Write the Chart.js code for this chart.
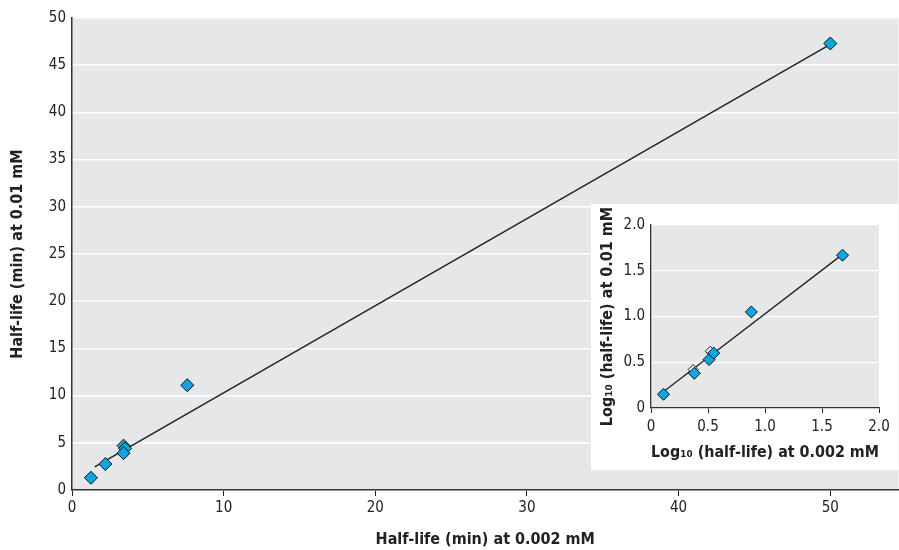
<!DOCTYPE html>
<html><head><meta charset="utf-8">
<script src="https://cdn.jsdelivr.net/npm/chart.js@4.4.1/dist/chart.umd.min.js"></script>
<style>
html,body{margin:0;padding:0;background:#fff;overflow:hidden;}
#wrap{position:relative;width:899px;height:550px;overflow:hidden;}
#inner{position:absolute;left:0;top:0;width:960px;height:550px;}
#main{position:absolute;left:0;top:0;}
#inset{position:absolute;left:591px;top:204px;}
</style></head><body>
<div id="wrap">
<div id="inner"><canvas id="main" width="899" height="550"></canvas></div>
<canvas id="inset" width="307" height="266"></canvas>
</div>
<script>
// Main chart data (half-life, min)
const mainX = [1.25, 2.2, 3.4, 3.5, 3.4, 7.6, 50.0];
const mainY = [1.3, 2.75, 4.7, 4.4, 3.9, 11.1, 47.3];
const mainFitX = [1.5, 50.0];
const mainFitY = [2.45, 47.2];
const mainXTicks = [0, 10, 20, 30, 40, 50];
const mainYTicks = [0, 5, 10, 15, 20, 25, 30, 35, 40, 45, 50];

// Inset data (log10 half-life)
const insetX = [0.11, 0.38, 0.51, 0.55, 0.88, 1.68];
const insetY = [0.15, 0.38, 0.53, 0.60, 1.05, 1.67];
const insetOpenX = [0.37, 0.52];
const insetOpenY = [0.42, 0.62];
const insetFitX = [0.10, 1.66];
const insetFitY = [0.17, 1.66];
const insetTicks = [0, 0.5, 1.0, 1.5, 2.0];

const FONT = '"DejaVu Sans Condensed","Liberation Sans Narrow","Roboto",sans-serif';
const BLUE = '#0ea5e3';
const PLOTBG = '#e6e7e8';
const TARGET_RIGHT = 898;

function pts(xs, ys){ return xs.map((x,i)=>({x:x,y:ys[i]})); }

const bgPlugin = {
  id:'bg',
  beforeDraw(chart, args, opts){
    const ctx = chart.ctx;
    ctx.save();
    if (opts.canvas) { ctx.fillStyle = opts.canvas; ctx.fillRect(0,0,chart.width,chart.height); }
    const a = chart.chartArea;
    ctx.fillStyle = opts.plot;
    ctx.fillRect(a.left, a.top, a.right-a.left, a.bottom-a.top);
    ctx.restore();
  }
};

function fixTicks(list){
  return function(scale){ scale.ticks = list.map(v=>({value:v})); };
}
function noSidePad(s){
  s.paddingRight = 0; s.paddingLeft = 0;
  if (s._margins) { s._margins.left = 0; s._margins.right = 0; }
}

function makeMain(){
  return new Chart(document.getElementById('main'), {
    type:'scatter',
    plugins:[bgPlugin],
    data:{datasets:[
      {data:pts(mainX,mainY), pointStyle:'rectRot', pointRadius:6.5, pointHoverRadius:6.5,
       backgroundColor:BLUE, borderColor:'#111', borderWidth:1},
      {data:pts(mainFitX,mainFitY), showLine:true, pointRadius:0, borderColor:'#222', borderWidth:1.5}
    ]},
    options:{
      responsive:false, animation:false,
      layout:{padding:{top:18,right:1,left:0,bottom:0}},
      plugins:{legend:{display:false}, tooltip:{enabled:false}, bg:{plot:PLOTBG, canvas:'#ffffff'}},
      scales:{
        x:{type:'linear', min:0, max:54.5,
          afterBuildTicks: fixTicks(mainXTicks),
          afterFit(s){ s.height = 60; noSidePad(s); },
          grid:{drawOnChartArea:false, drawTicks:true, tickLength:6, tickColor:'#222', tickWidth:1},
          border:{color:'#333', width:1.5},
          ticks:{font:{family:FONT,size:15}, color:'#222', padding:3, maxRotation:0, autoSkip:false},
          title:{display:true, text:'Half-life (min) at 0.002 mM', font:{family:FONT,size:16,weight:'bold'}, color:'#222', padding:{top:6,bottom:1}}
        },
        y:{type:'linear', min:0, max:50,
          afterBuildTicks: fixTicks(mainYTicks),
          afterFit(s){ s.width = 72; },
          grid:{color:'#ffffff', lineWidth:1.5, drawTicks:false},
          border:{color:'#333', width:1.5},
          ticks:{font:{family:FONT,size:15}, color:'#222', padding:6, autoSkip:false},
          title:{display:true, text:'Half-life (min) at 0.01 mM', font:{family:FONT,size:16,weight:'bold'}, color:'#222', padding:{top:8,bottom:4}}
        }
      }
    }
  });
}

let mainChart = makeMain();
const gap = Math.round(TARGET_RIGHT - mainChart.chartArea.right);
if (gap > 0) {
  mainChart.destroy();
  const cv = document.getElementById('main');
  cv.removeAttribute('style');
  cv.width = 899 + gap; cv.height = 550;
  mainChart = makeMain();
}

new Chart(document.getElementById('inset'), {
  type:'scatter',
  plugins:[bgPlugin],
  data:{datasets:[
    {data:pts(insetX,insetY), pointStyle:'rectRot', pointRadius:6, pointHoverRadius:6,
     backgroundColor:BLUE, borderColor:'#111', borderWidth:1},
    {data:pts(insetOpenX,insetOpenY), pointStyle:'rectRot', pointRadius:5, pointHoverRadius:5,
     backgroundColor:'#ffffff', borderColor:'#111', borderWidth:1},
    {data:pts(insetFitX,insetFitY), showLine:true, pointRadius:0, borderColor:'#222', borderWidth:1.3}
  ]},
  options:{
    responsive:false, animation:false,
    layout:{padding:{top:21,right:19,left:0,bottom:0}},
    plugins:{legend:{display:false}, tooltip:{enabled:false}, bg:{plot:PLOTBG, canvas:'#ffffff'}},
    scales:{
      x:{type:'linear', min:0, max:2,
        afterBuildTicks: fixTicks(insetTicks),
        afterFit(s){ s.height = 62; },
        grid:{drawOnChartArea:false, drawTicks:true, tickLength:5, tickColor:'#222', tickWidth:1},
        border:{color:'#333', width:1.3},
        ticks:{font:{family:FONT,size:15}, color:'#222', padding:5, maxRotation:0, autoSkip:false,
          callback:(v)=> v===0 ? '0' : Number(v).toFixed(1)},
        title:{display:true, text:'Log\u2081\u2080 (half-life) at 0.002 mM', font:{family:FONT,size:16,weight:'bold'}, color:'#222', padding:{top:0,bottom:8}}
      },
      y:{type:'linear', min:0, max:2,
        afterBuildTicks: fixTicks(insetTicks),
        afterFit(s){ s.width = 60; },
        grid:{color:'#ffffff', lineWidth:1.3, drawTicks:false},
        border:{color:'#333', width:1.3},
        ticks:{font:{family:FONT,size:15}, color:'#222', padding:6, autoSkip:false,
          callback:(v)=> v===0 ? '0' : Number(v).toFixed(1)},
        title:{display:true, text:'Log\u2081\u2080 (half-life) at 0.01 mM', font:{family:FONT,size:16,weight:'bold'}, color:'#222', padding:{top:7,bottom:2}}
      }
    }
  }
});
</script>
</body></html>
